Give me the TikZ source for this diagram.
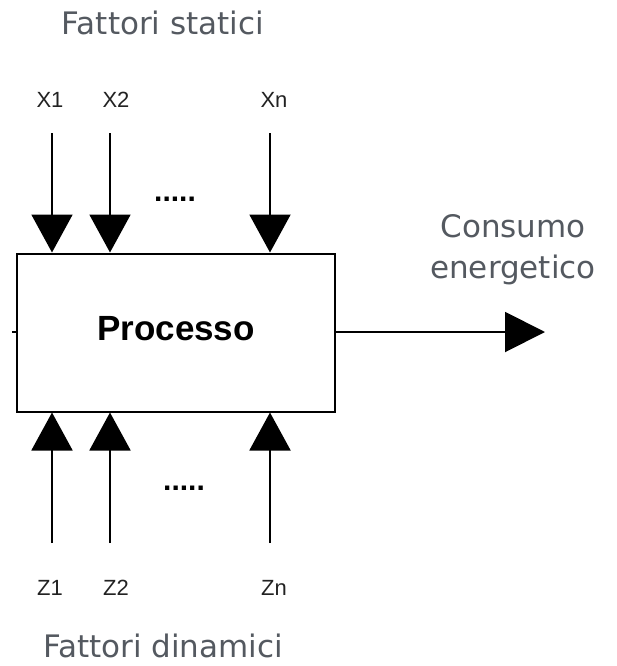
\documentclass[tikz,border=0pt]{standalone}
\usepackage{fontspec}
\setmainfont{Liberation Sans}
\newfontfamily\titlefont{DejaVu Sans}
\usetikzlibrary{arrows.meta}
\definecolor{titlegray}{RGB}{84,89,96}
\definecolor{labelgray}{RGB}{34,34,34}
\tikzset{
  title/.style={font=\titlefont\fontsize{31}{37}\selectfont, text=titlegray, anchor=base, inner sep=0pt},
  varlabel/.style={font=\fontsize{22}{26}\selectfont, text=labelgray, anchor=base, inner sep=0pt},
  dotsep/.style={font=\bfseries\fontsize{30}{30}\selectfont, anchor=center, inner sep=0pt},
  flow/.style={line width=2pt, -{Triangle[length=38pt,width=41pt]}},
  procbox/.style={draw, line width=2pt, minimum width=318pt, minimum height=158pt, inner sep=0pt,
    font=\bfseries\fontsize{35}{40}\selectfont, text height=25pt, text depth=10pt}
}
\begin{document}
\begin{tikzpicture}[x=1pt,y=-1pt]
\useasboundingbox (0,0) rectangle (617,666);
\node[procbox] (proc) at (176,332.5) {Processo};

\node[title] (tstat) at (163,35) {Fattori statici};
\node[title] (tdyn) at (163,657) {Fattori dinamici};
\node[title] (cons1) at (513,237) {Consumo};
\node[title] (cons2) at (513,278) {energetico};

\node[varlabel] (x1) at (50,108) {X1};
\node[varlabel] (x2) at (116,108) {X2};
\node[varlabel] (xn) at (274,108) {Xn};
\node[varlabel] (z1) at (50,595) {Z1};
\node[varlabel] (z2) at (116,595) {Z2};
\node[varlabel] (zn) at (274,595) {Zn};

\node[dotsep] (dtop) at (175,199) {.....};
\node[dotsep] (dbot) at (184,488) {.....};

\coordinate (x1s) at (52,133);
\coordinate (x2s) at (110,133);
\coordinate (xns) at (270,133);
\coordinate (z1s) at (52,543);
\coordinate (z2s) at (110,543);
\coordinate (zns) at (270,543);
\coordinate (outend) at (545,332);
\coordinate (inend) at (12,332);

\draw[flow] (x1s) -- (x1s |- proc.north);
\draw[flow] (x2s) -- (x2s |- proc.north);
\draw[flow] (xns) -- (xns |- proc.north);
\draw[flow] (z1s) -- (z1s |- proc.south);
\draw[flow] (z2s) -- (z2s |- proc.south);
\draw[flow] (zns) -- (zns |- proc.south);
\draw[line width=2pt, -{Triangle[length=40pt,width=40pt]}] (proc.east |- outend) -- (outend);
\draw[line width=2pt] (proc.west |- inend) -- (inend);
\end{tikzpicture}
\end{document}
